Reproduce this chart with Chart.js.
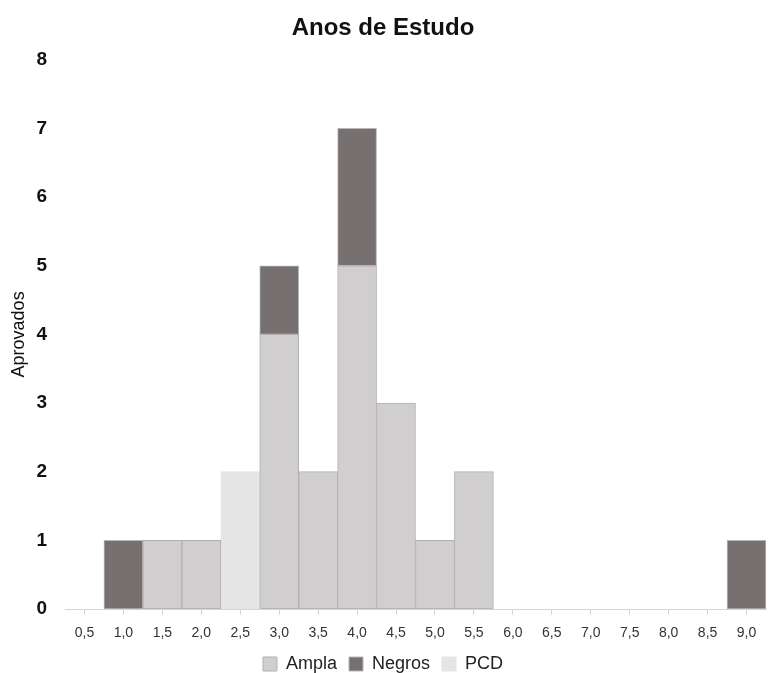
<!DOCTYPE html>
<html>
<head>
<meta charset="utf-8">
<script src="https://cdn.jsdelivr.net/npm/chart.js@4"></script>
<style>
  html, body { margin: 0; padding: 0; background: #fff; }
  #wrap { width: 772px; height: 673px; }
</style>
</head>
<body>
<div id="wrap"><canvas id="myChart" width="772" height="673"></canvas></div>
<script>
// anos de estudo (categorias do eixo x)
var anos = ["0,5", "1,0", "1,5", "2,0", "2,5", "3,0", "3,5", "4,0", "4,5", "5,0", "5,5", "6,0", "6,5", "7,0", "7,5", "8,0", "8,5", "9,0"];

// aprovados por grupo
var ampla  = [0, 0, 1, 1, 0, 4, 2, 5, 3, 1, 2, 0, 0, 0, 0, 0, 0, 0];
var negros = [0, 1, 0, 0, 0, 1, 0, 2, 0, 0, 0, 0, 0, 0, 0, 0, 0, 1];
var pcd    = [0, 0, 0, 0, 2, 0, 0, 0, 0, 0, 0, 0, 0, 0, 0, 0, 0, 0];

var fontFam = "'Liberation Sans', Arial, Helvetica, sans-serif";

function zeroToNull(arr) {
	return arr.map(v => v === 0 ? null : v);
}

new Chart("myChart", {
	type: "bar",
	data: {
		labels: anos,
		datasets: [{
			label: "Ampla",
			data: zeroToNull(ampla),
			backgroundColor: "#d0cecf",
			borderColor: "#b2b0b1",
			borderWidth: 1,
			borderSkipped: false
		},
		{
			label: "Negros",
			data: zeroToNull(negros),
			backgroundColor: "#767070",
			borderColor: "#b8b6b6",
			borderWidth: 1,
			borderSkipped: false
		},
		{
			label: "PCD",
			data: zeroToNull(pcd),
			backgroundColor: "#e6e5e6",
			borderColor: "#e6e5e6",
			borderWidth: 1,
			borderSkipped: false
		}]
	},
	options: {
		responsive: false,
		animation: false,
		datasets: {
			bar: { barPercentage: 1, categoryPercentage: 1 }
		},
		layout: { padding: { left: 0, right: 6, top: 0, bottom: 0 } },
		scales: {
			x: {
				stacked: true,
				grid: { display: true, drawOnChartArea: false, offset: false, color: "#d4d4d4", tickLength: 6 },
				border: { display: true, color: "#d4d4d4", width: 1 },
				ticks: { color: "#333", font: { family: fontFam, size: 14 }, padding: 10, maxRotation: 0, autoSkip: false },
				afterFit: function(s) { s.height = 34; }
			},
			y: {
				stacked: true,
				min: 0,
				max: 8,
				grid: { display: false, drawTicks: false },
				border: { display: false },
				ticks: { stepSize: 1, color: "#111", font: { family: fontFam, size: 19, weight: "bold" }, padding: 18 },
				title: { display: true, text: "Aprovados", color: "#111", font: { family: fontFam, size: 18 }, padding: { top: 8, bottom: 0 } },
				afterFit: function(s) { s.width = 65; }
			}
		},
		plugins: {
			title: {
				display: true,
				text: "Anos de Estudo",
				color: "#111",
				font: { family: fontFam, size: 24, weight: "bold" },
				padding: { top: 14, bottom: 17 }
			},
			legend: {
				position: "bottom",
				maxHeight: 30,
				labels: { color: "#222", font: { family: fontFam, size: 18 }, boxWidth: 14, boxHeight: 14, padding: 12 }
			},
			tooltip: { enabled: false }
		}
	}
});
</script>
</body>
</html>
